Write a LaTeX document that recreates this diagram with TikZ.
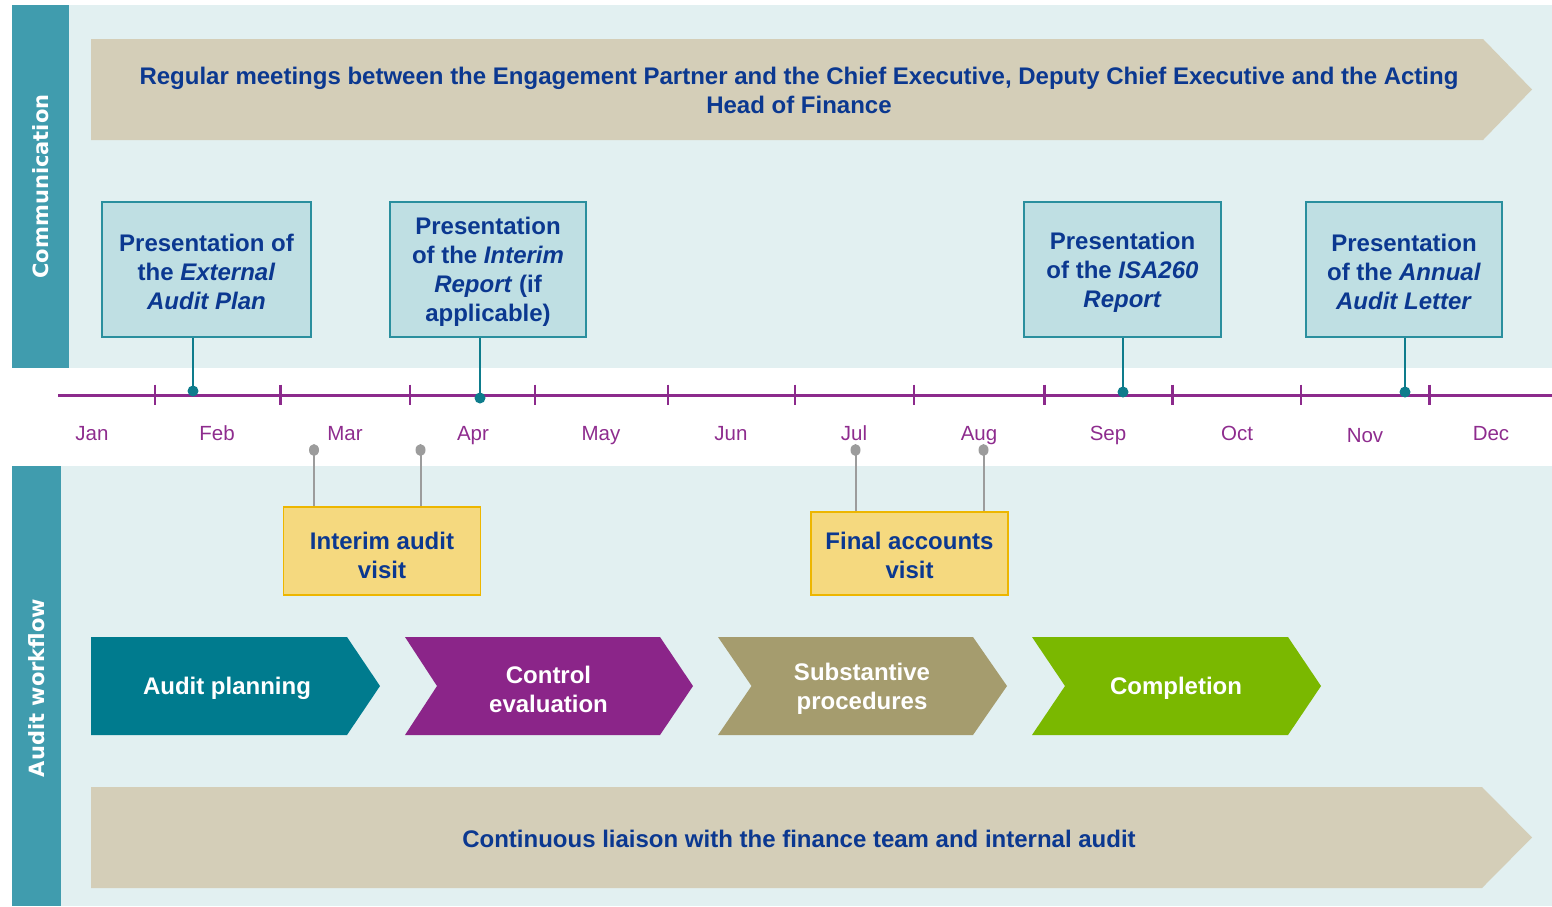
\documentclass[tikz,border=0pt]{standalone}
\usepackage{fontspec}
\setmainfont{Liberation Sans}
\newfontfamily\sidefont{DejaVu Sans}
\definecolor{panel}{HTML}{E2F0F1}
\definecolor{sidebar}{HTML}{409CAE}
\definecolor{banner}{HTML}{D4CEB8}
\definecolor{dkblue}{HTML}{0B3890}
\definecolor{tlpurple}{HTML}{8C2A8C}
\definecolor{commfill}{HTML}{BFDFE3}
\definecolor{commline}{HTML}{2A8F9E}
\definecolor{dotteal}{HTML}{0E7C8C}
\definecolor{yfill}{HTML}{F5D97F}
\definecolor{yline}{HTML}{EDB600}
\definecolor{gline}{HTML}{9C9C9C}
\definecolor{cteal}{HTML}{007B8E}
\definecolor{cpurple}{HTML}{8B2589}
\definecolor{colive}{HTML}{A59C6E}
\definecolor{cgreen}{HTML}{7AB800}
\definecolor{monthc}{HTML}{8E2C8E}
\tikzset{
  bigtxt/.style={font=\fontsize{24}{29}\selectfont\bfseries, text=dkblue, align=center, inner sep=0pt},
  chevtxt/.style={font=\fontsize{24}{29}\selectfont\bfseries, text=white, align=center, inner sep=0pt},
  commbox/.style={draw=commline, fill=commfill, line width=1.3pt, minimum height=135pt, inner sep=0pt},
  visitbox/.style={draw=yline, fill=yfill, line width=1.3pt, inner sep=0pt},
  monthlbl/.style={font=\fontsize{20.5}{24}\selectfont, text=monthc, anchor=base, inner sep=0pt},
  sidelbl/.style={font=\sidefont\bfseries\fontsize{21}{21}\selectfont, text=white, rotate=90, inner sep=0pt},
  commlink/.style={draw=dotteal, line width=2pt},
  visitlink/.style={draw=gline, line width=2pt},
  tealdot/.style={fill=dotteal},
  graydot/.style={fill=gline},
}
\begin{document}
\begin{tikzpicture}[x=1pt,y=-1pt]
\useasboundingbox (0,0) rectangle (1552,906);
% panels
\fill[panel] (12,5) rectangle (1552,368);
\fill[panel] (12,466) rectangle (1552,906);
\fill[sidebar] (12,5) rectangle (69,368);
\fill[sidebar] (12,466) rectangle (61,906);
\node[sidelbl] (comm) at (40.5,186.5) {Communication};
\node[sidelbl] (work) at (37,688) {Audit workflow};
% banners
\fill[banner] (91,39) -- (1483,39) -- (1532,89.5) -- (1483,140) -- (91,140) -- cycle;
\node[bigtxt] (meet) at (799,90) {Regular meetings between the Engagement Partner and the Chief Executive, Deputy Chief Executive and the Acting\\Head of Finance};
\fill[banner] (91,787) -- (1482,787) -- (1532,837.5) -- (1482,888) -- (91,888) -- cycle;
\node[bigtxt] (liaison) at (799,839) {Continuous liaison with the finance team and internal audit};
% timeline
\coordinate (tlA) at (58,395);
\coordinate (tlB) at (1552,395);
\draw[tlpurple, line width=3pt] (tlA) -- (tlB);
\foreach \x in {155,280.5,410,535,668,795,914,1044.5,1172.5,1301,1429.5}
  \draw[tlpurple, line width=2.4pt] (\x,384.5) -- (\x,404.5);
\node[monthlbl] (jan) at (92,440) {Jan};
\node[monthlbl] (feb) at (217,440) {Feb};
\node[monthlbl] (mar) at (345,440) {Mar};
\node[monthlbl] (apr) at (473,440) {Apr};
\node[monthlbl] (may) at (601,440) {May};
\node[monthlbl] (jun) at (731,440) {Jun};
\node[monthlbl] (jul) at (854,440) {Jul};
\node[monthlbl] (aug) at (979,440) {Aug};
\node[monthlbl] (sep) at (1108,440) {Sep};
\node[monthlbl] (oct) at (1237,440) {Oct};
\node[monthlbl] (nov) at (1365,442) {Nov};
\node[monthlbl] (dec) at (1491,440) {Dec};
% communication boxes
\node[commbox, minimum width=209pt] (b1) at (206.5,269.5) {};
\node[commbox, minimum width=196pt] (b2) at (488,269.5) {};
\node[commbox, minimum width=197pt] (b3) at (1122.5,269.5) {};
\node[commbox, minimum width=196pt] (b4) at (1404,269.5) {};
\node[bigtxt] (t1) at (206.5,272) {Presentation of\\the \textit{External}\\\textit{Audit Plan}};
\node[bigtxt] (t2) at (488,272) {Presentation\\of the \textit{Interim}\\\textit{Report} (if\\applicable)};
\node[bigtxt] (t3) at (1122.5,272) {Presentation\\of the \textit{ISA260}\\\textit{Report}};
\node[bigtxt] (t4) at (1404,272) {Presentation\\of the \textit{Annual}\\\textit{Audit Letter}};
\coordinate (d1) at (193,391);
\coordinate (d2) at (480,398);
\coordinate (d3) at (1123,392);
\coordinate (d4) at (1405,392);
\foreach \b/\d in {b1/d1,b2/d2,b3/d3,b4/d4}{
  \draw[commlink] (\b.south -| \d) -- (\d);
  \fill[tealdot] (\d) circle (5.5pt);
}
% visit boxes
\node[visitbox, minimum width=197pt, minimum height=88pt] (v1) at (382,551) {};
\node[visitbox, minimum width=197pt, minimum height=83pt] (v2) at (909.5,553.5) {};
\node[bigtxt] (vt1) at (382,555) {Interim audit\\visit};
\node[bigtxt] (vt2) at (909.5,555) {Final accounts\\visit};
\coordinate (g1) at (314,450);
\coordinate (g2) at (420.5,450);
\coordinate (g3) at (855.5,450);
\coordinate (g4) at (983.5,450);
\foreach \g/\v in {g1/v1,g2/v1,g3/v2,g4/v2}{
  \draw[visitlink] (\g) -- (\g |- \v.north);
  \fill[graydot] (\g) ellipse (5pt and 6pt);
}
% chevrons
\fill[cteal] (91,637) -- (347,637) -- (380,686) -- (347,735) -- (91,735) -- cycle;
\node[chevtxt] (c1) at (227,688) {Audit planning};
\fill[cpurple] (405,637) -- (660,637) -- (693,686) -- (660,735) -- (405,735) -- (437,686) -- cycle;
\node[chevtxt] (c2) at (548.5,689) {Control\\evaluation};
\fill[colive] (718,637) -- (973,637) -- (1007,686) -- (973,735) -- (718,735) -- (751.5,686) -- cycle;
\node[chevtxt] (c3) at (862,689) {Substantive\\procedures};
\fill[cgreen] (1032,637) -- (1288,637) -- (1321,686) -- (1288,735) -- (1032,735) -- (1065,686) -- cycle;
\node[chevtxt] (c4) at (1176,688) {Completion};
\end{tikzpicture}
\end{document}
